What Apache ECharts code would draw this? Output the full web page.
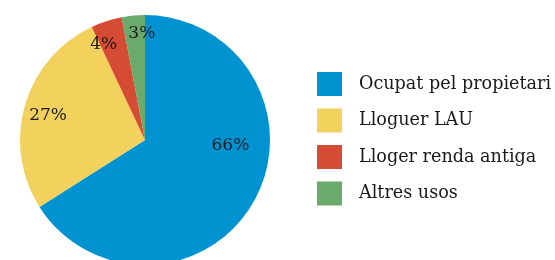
<!DOCTYPE html>
<html>
<head>
<meta charset="utf-8">
<script src="https://cdn.jsdelivr.net/npm/echarts@6/dist/echarts.min.js"></script>
<style>
  html, body { margin: 0; padding: 0; background: #fff; }
  #main { width: 555px; height: 260px; }
</style>
</head>
<body>
<div id="main"></div>
<script>
// categories and shares (%)
const categories = ['Ocupat pel propietari', 'Lloguer LAU', 'Lloger renda antiga', 'Altres usos'];
const values = [66, 27, 4, 3];
const colors = ['#0093d2', '#f2d15c', '#d54b33', '#6aaa6a'];
// label nudges from the default inside position
const labelShift = [[28, -26], [-34, -6], [-21, -33], [3, -41]];

const myChart = echarts.init(document.getElementById('main'));

myChart.setOption({
  animation: false,
  color: colors,
  legend: {
    orient: 'vertical',
    left: 317,
    top: 72,
    padding: 0,
    itemWidth: 25,
    itemHeight: 24,
    itemGap: 12.5,
    icon: 'rect',
    textStyle: {
      fontFamily: 'DejaVu Serif',
      fontSize: 17.6,
      color: '#1a1a1a',
      padding: [0, 0, 0, 12]
    },
    data: categories
  },
  series: [{
    type: 'pie',
    center: [145, 140],
    radius: 125,
    startAngle: 90,
    clockwise: true,
    label: {
      position: 'inside',
      formatter: '{c}%',
      fontFamily: 'DejaVu Serif',
      fontSize: 17,
      color: '#1a1a1a'
    },
    labelLine: { show: false },
    labelLayout: function (params) {
      const s = labelShift[params.dataIndex];
      return { dx: s[0], dy: s[1] };
    },
    emphasis: { disabled: true },
    data: categories.map((name, i) => ({ name: name, value: values[i] }))
  }]
});
</script>
</body>
</html>
